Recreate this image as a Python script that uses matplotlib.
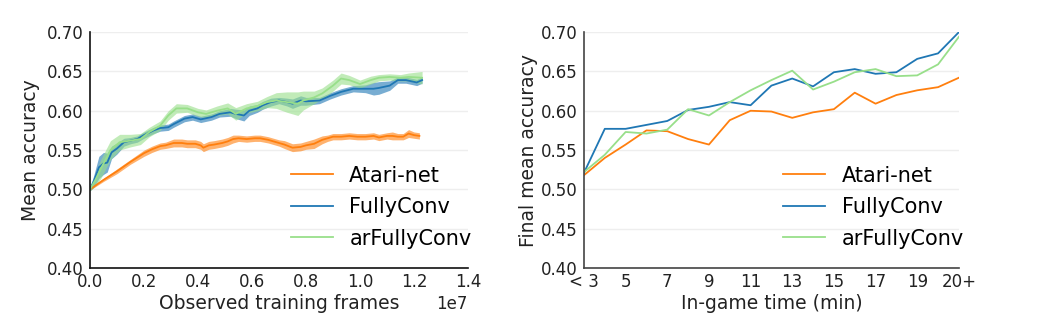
import matplotlib
matplotlib.use("Agg")
import matplotlib.pyplot as plt
import numpy as np

# ---------------- Left panel data (x in units of 1e7 frames) ----------------
atari_x = [0.00, 0.05, 0.10, 0.15, 0.20, 0.23, 0.26, 0.28, 0.31, 0.34, 0.36, 0.39,
           0.41, 0.42, 0.44, 0.46, 0.49, 0.51, 0.53, 0.55, 0.58, 0.61, 0.63, 0.66,
           0.68, 0.70, 0.72, 0.75, 0.78, 0.80, 0.83, 0.86, 0.88, 0.90, 0.93, 0.96,
           0.99, 1.02, 1.05, 1.07, 1.10, 1.12, 1.14, 1.16, 1.18, 1.20, 1.22]
atari_mean = [0.500, 0.512, 0.523, 0.535, 0.546, 0.551, 0.555, 0.556, 0.559, 0.559, 0.558, 0.558,
              0.556, 0.553, 0.556, 0.557, 0.559, 0.561, 0.564, 0.565, 0.564, 0.565, 0.565, 0.563,
              0.561, 0.559, 0.557, 0.553, 0.554, 0.556, 0.558, 0.563, 0.565, 0.567, 0.567, 0.568,
              0.567, 0.567, 0.568, 0.566, 0.568, 0.568, 0.567, 0.567, 0.571, 0.569, 0.568]
atari_err = [0.001, 0.002, 0.003, 0.003, 0.004, 0.004, 0.004, 0.004, 0.005, 0.005, 0.005, 0.005,
             0.005, 0.005, 0.005, 0.005, 0.005, 0.005, 0.005, 0.004, 0.004, 0.004, 0.004, 0.004,
             0.004, 0.004, 0.005, 0.005, 0.005, 0.005, 0.006, 0.005, 0.004, 0.004, 0.004, 0.004,
             0.004, 0.004, 0.004, 0.004, 0.004, 0.005, 0.004, 0.004, 0.005, 0.004, 0.004]

fc_x = [0.00, 0.015, 0.033, 0.05, 0.064, 0.08, 0.10, 0.126, 0.15, 0.175, 0.20, 0.236,
        0.26, 0.29, 0.31, 0.35, 0.38, 0.41, 0.45, 0.48, 0.52, 0.54, 0.57, 0.59,
        0.62, 0.64, 0.67, 0.70, 0.73, 0.75, 0.78, 0.80, 0.85, 0.89, 0.93, 0.975,
        1.02, 1.05, 1.07, 1.11, 1.14, 1.17, 1.21, 1.23]
fc_mean = [0.500, 0.511, 0.528, 0.533, 0.534, 0.547, 0.552, 0.560, 0.562, 0.564, 0.569, 0.575,
           0.578, 0.579, 0.583, 0.590, 0.592, 0.589, 0.592, 0.596, 0.598, 0.596, 0.594, 0.600,
           0.603, 0.607, 0.611, 0.613, 0.611, 0.609, 0.613, 0.612, 0.613, 0.619, 0.624, 0.628,
           0.628, 0.628, 0.629, 0.632, 0.639, 0.639, 0.636, 0.639]
fc_err = [0.002, 0.008, 0.014, 0.014, 0.012, 0.008, 0.007, 0.005, 0.004, 0.004, 0.004, 0.004,
          0.004, 0.004, 0.004, 0.004, 0.004, 0.004, 0.004, 0.004, 0.005, 0.006, 0.007, 0.006,
          0.005, 0.005, 0.005, 0.004, 0.005, 0.006, 0.006, 0.005, 0.004, 0.004, 0.004, 0.004,
          0.005, 0.008, 0.008, 0.006, 0.004, 0.004, 0.004, 0.004]

arfc_x = [0.00, 0.02, 0.04, 0.076, 0.11, 0.15, 0.187, 0.22, 0.26, 0.29, 0.32, 0.36,
          0.40, 0.43, 0.47, 0.51, 0.54, 0.58, 0.62, 0.655, 0.69, 0.73, 0.77, 0.79,
          0.83, 0.86, 0.90, 0.93, 0.96, 1.00, 1.04, 1.07, 1.11, 1.15, 1.18, 1.23]
arfc_mean = [0.500, 0.512, 0.526, 0.550, 0.560, 0.562, 0.564, 0.573, 0.581, 0.594, 0.603, 0.603,
             0.598, 0.596, 0.600, 0.603, 0.596, 0.603, 0.606, 0.611, 0.613, 0.611, 0.609, 0.613,
             0.617, 0.622, 0.632, 0.641, 0.639, 0.634, 0.639, 0.642, 0.643, 0.642, 0.643, 0.642]
arfc_err = [0.002, 0.008, 0.012, 0.012, 0.010, 0.008, 0.007, 0.006, 0.006, 0.006, 0.006, 0.005,
            0.005, 0.005, 0.006, 0.007, 0.008, 0.006, 0.006, 0.007, 0.010, 0.013, 0.015, 0.012,
            0.008, 0.007, 0.007, 0.007, 0.006, 0.005, 0.005, 0.004, 0.004, 0.004, 0.005, 0.008]

# ---------------- Right panel data ----------------
game_time = [3, 4, 5, 6, 7, 8, 9, 10, 11, 12, 13, 14, 15, 16, 17, 18, 19, 20, 21]
time_ticks = [3, 5, 7, 9, 11, 13, 15, 17, 19, 21]
time_labels = ['< 3', '5', '7', '9', '11', '13', '15', '17', '19', '20+']
atari_final = [0.518, 0.540, 0.557, 0.575, 0.574, 0.564, 0.557, 0.588, 0.600, 0.599, 0.591, 0.598,
               0.602, 0.623, 0.609, 0.620, 0.626, 0.630, 0.642]
fc_final = [0.521, 0.577, 0.577, 0.582, 0.587, 0.601, 0.605, 0.611, 0.607, 0.632, 0.641, 0.631,
            0.649, 0.653, 0.647, 0.649, 0.666, 0.673, 0.700]
arfc_final = [0.522, 0.544, 0.573, 0.571, 0.576, 0.602, 0.594, 0.611, 0.626, 0.639, 0.651, 0.627,
              0.637, 0.649, 0.653, 0.644, 0.645, 0.659, 0.694]

labels = ['Atari-net', 'FullyConv', 'arFullyConv']
colors = ['#ff7f0e', '#1f77b4', '#98df8a']

plt.rcParams['font.family'] = ['DejaVu Sans']
fig = plt.figure(figsize=(10.4, 3.28), dpi=100)
ax1 = fig.add_axes([0.0865, 0.183, 0.3635, 0.719])
ax2 = fig.add_axes([0.5615, 0.183, 0.3605, 0.719])

def style(ax, spine_color):
    for s in ['top', 'right']:
        ax.spines[s].set_visible(False)
    for s in ['left', 'bottom']:
        ax.spines[s].set_color(spine_color)
        ax.spines[s].set_linewidth(1.2)
    ax.set_axisbelow(True)
    ax.yaxis.grid(True, color='#eeeeee', linewidth=1)
    ax.tick_params(length=0, labelsize=12, colors='#222222')
    ax.tick_params(axis='y', pad=4.5)
    ax.tick_params(axis='x', pad=3.5)
    ax.set_ylim(0.40, 0.70)
    ax.set_yticks(np.arange(0.40, 0.701, 0.05))
    ax.yaxis.set_major_formatter(matplotlib.ticker.FormatStrFormatter('%.2f'))

leg_kw = dict(loc='center left', bbox_to_anchor=(0.482, 0.258), frameon=False, fontsize=15,
              handlelength=2.0, handletextpad=0.8, labelspacing=0.55)

# Left panel
series = [(atari_x, atari_mean, atari_err), (fc_x, fc_mean, fc_err), (arfc_x, arfc_mean, arfc_err)]
for (x, m, e), lab, c in zip(series, labels, colors):
    x = np.array(x) * 1e7
    m = np.array(m)
    e = np.array(e)
    ax1.fill_between(x, m - e, m + e, color=c, alpha=0.6, linewidth=0)
    ax1.plot(x, m, color=c, lw=1.3, label=lab)
style(ax1, '#111111')
ax1.set_xlim(0, 1.4e7)
ax1.set_xticks(np.arange(0, 1.41e7, 0.2e7))
ax1.set_xlabel('Observed training frames', fontsize=13.5, color='#222222', labelpad=2)
ax1.set_ylabel('Mean accuracy', fontsize=13.5, color='#222222', labelpad=5)
ax1.xaxis.get_offset_text().set_fontsize(12)
ax1.legend(**leg_kw)

# Right panel
for vals, lab, c in zip([atari_final, fc_final, arfc_final], labels, colors):
    ax2.plot(game_time, vals, color=c, lw=1.3, label=lab)
style(ax2, '#444444')
ax2.set_xlim(3, 21)
ax2.set_xticks(time_ticks)
ax2.set_xticklabels(time_labels)
ax2.set_xlabel('In-game time (min)', fontsize=13.5, color='#222222', labelpad=2)
ax2.set_ylabel('Final mean accuracy', fontsize=13.5, color='#222222', labelpad=2)
ax2.legend(**leg_kw)

fig.savefig('out.png', dpi=100)
